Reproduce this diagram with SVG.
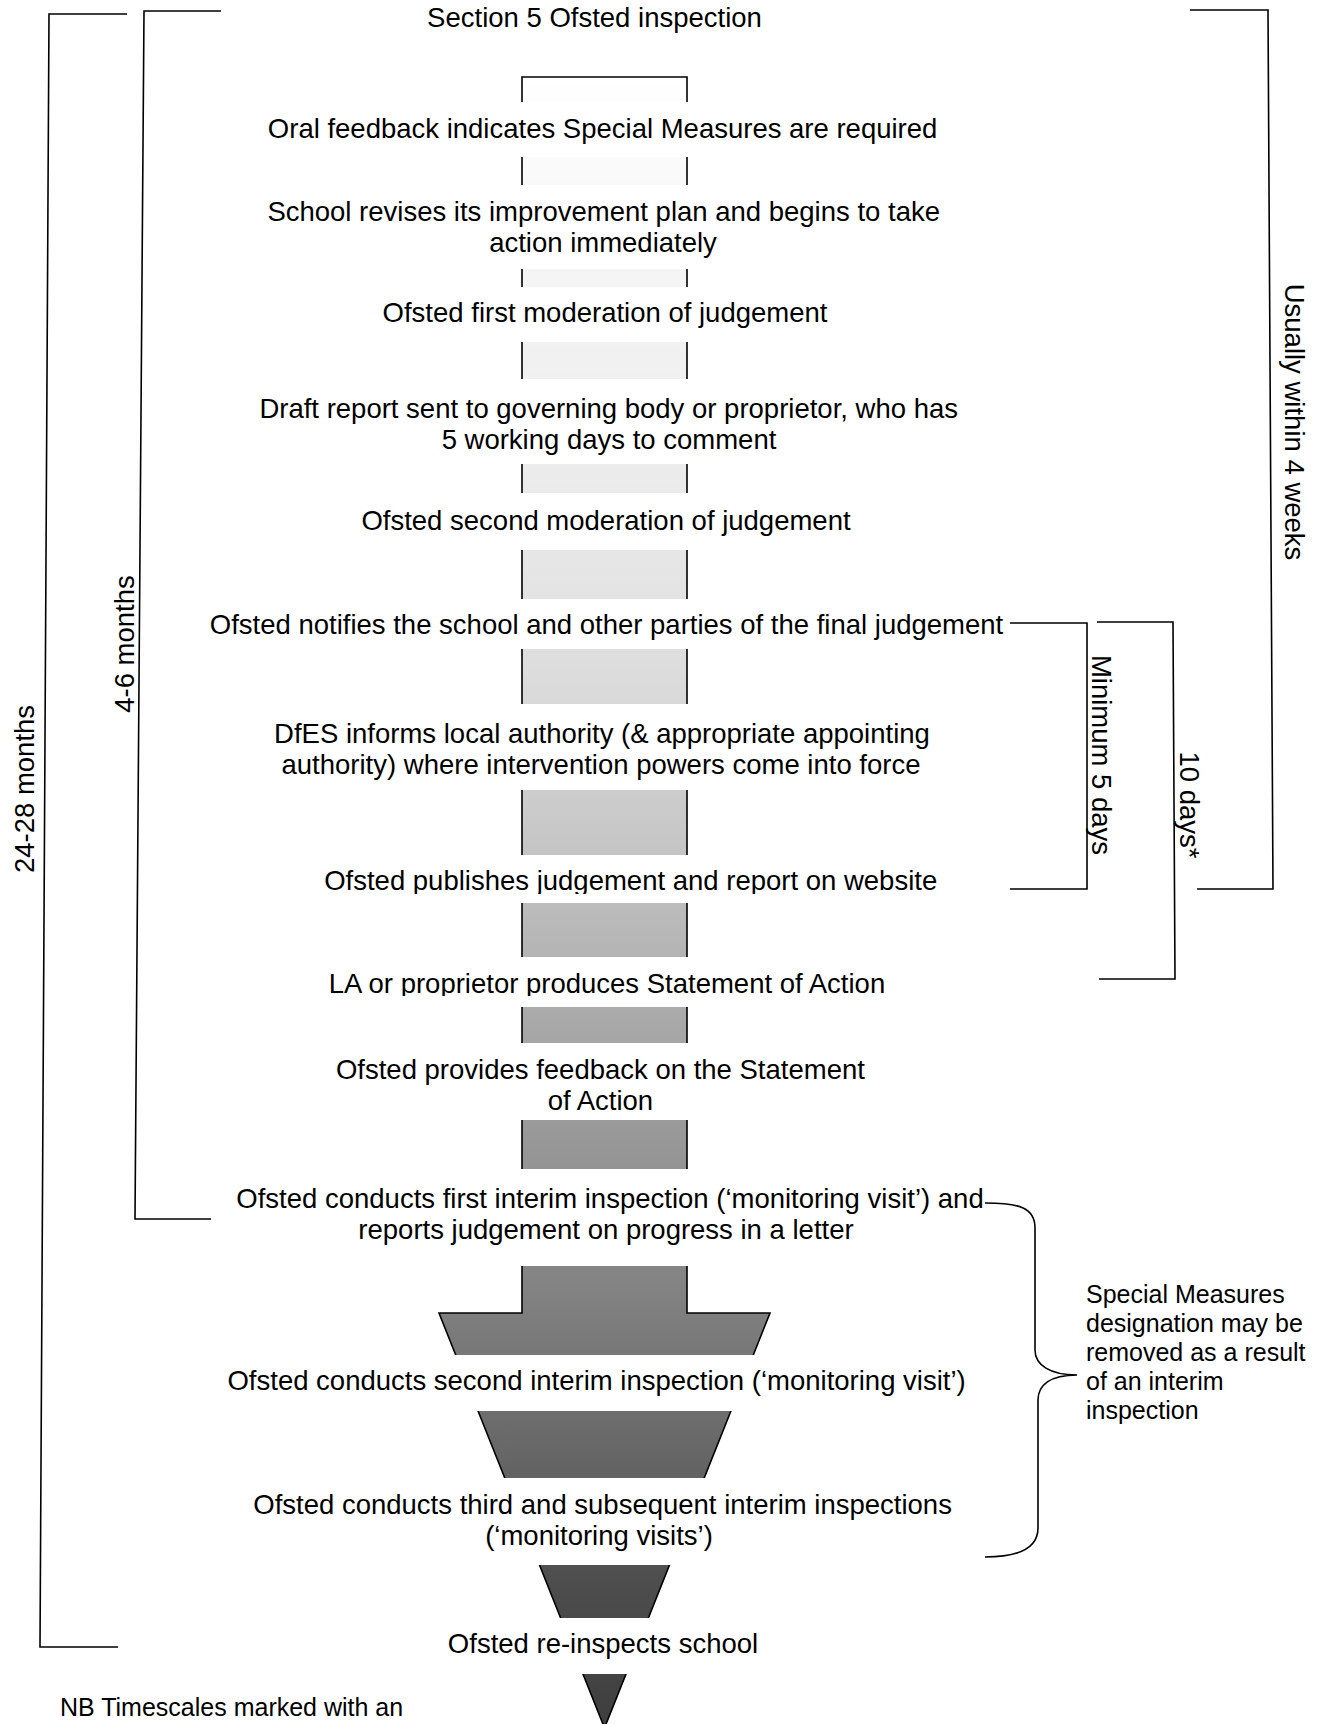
<svg xmlns="http://www.w3.org/2000/svg" width="1324" height="1724" viewBox="0 0 1324 1724">
<style>
text{font-family:"Liberation Sans",Arial,sans-serif;fill:#000}
.m{font-size:27.5px;text-anchor:middle}
.r{font-size:27.5px;text-anchor:middle}
.s{font-size:25px}
.ln{fill:none;stroke:#000;stroke-width:1.6}
</style>
<defs>
<linearGradient id="g" gradientUnits="userSpaceOnUse" x1="0" y1="77" x2="0" y2="1728">
<stop offset="0" stop-color="#ffffff"/>
<stop offset="0.056" stop-color="#fafafa"/>
<stop offset="0.122" stop-color="#f5f5f5"/>
<stop offset="0.171" stop-color="#f1f1f1"/>
<stop offset="0.243" stop-color="#ebebeb"/>
<stop offset="0.302" stop-color="#e5e5e5"/>
<stop offset="0.363" stop-color="#dcdcdc"/>
<stop offset="0.451" stop-color="#c9c9c9"/>
<stop offset="0.517" stop-color="#b8b8b8"/>
<stop offset="0.574" stop-color="#a8a8a8"/>
<stop offset="0.647" stop-color="#979797"/>
<stop offset="0.735" stop-color="#828282"/>
<stop offset="0.829" stop-color="#686868"/>
<stop offset="0.916" stop-color="#4c4c4c"/>
<stop offset="1" stop-color="#3e3e3e"/>
</linearGradient>
<clipPath id="bars">
<rect x="400" y="75" width="400" height="27"/>
<rect x="400" y="157" width="400" height="28"/>
<rect x="400" y="269" width="400" height="18"/>
<rect x="400" y="342" width="400" height="37"/>
<rect x="400" y="464" width="400" height="29"/>
<rect x="400" y="550" width="400" height="49"/>
<rect x="400" y="649" width="400" height="55"/>
<rect x="400" y="790" width="400" height="65"/>
<rect x="400" y="903" width="400" height="54"/>
<rect x="400" y="1007" width="400" height="36"/>
<rect x="400" y="1120" width="400" height="49"/>
<rect x="400" y="1266" width="400" height="89"/>
<rect x="400" y="1411" width="400" height="67"/>
<rect x="400" y="1565" width="400" height="53"/>
<rect x="400" y="1674" width="400" height="60"/>
</clipPath>
<clipPath id="c1"><rect x="0" y="850" width="1324" height="44"/></clipPath>
<clipPath id="c2"><rect x="0" y="960" width="1324" height="36"/></clipPath>
</defs>
<rect width="1324" height="1724" fill="#fff"/>

<g id="steps">
<g id="n0"><text class="m" x="594.5" y="27">Section 5 Ofsted inspection</text></g>
<g id="n1"><text class="m" x="602.6" y="138">Oral feedback indicates Special Measures are required</text></g>
<g id="n2"><text class="m" x="603.7" y="221">School revises its improvement plan and begins to take</text><text class="m" x="603" y="252">action immediately</text></g>
<g id="n3"><text class="m" x="605" y="322">Ofsted first moderation of judgement</text></g>
<g id="n4"><text class="m" x="608.7" y="418">Draft report sent to governing body or proprietor, who has</text><text class="m" x="609" y="449">5 working days to comment</text></g>
<g id="n5"><text class="m" x="606" y="530">Ofsted second moderation of judgement</text></g>
<g id="n6"><text class="m" x="606.5" y="634">Ofsted notifies the school and other parties of the final judgement</text></g>
<g id="n7"><text class="m" x="602" y="743">DfES informs local authority (&amp; appropriate appointing</text><text class="m" x="601" y="774">authority) where intervention powers come into force</text></g>
<g id="n8"><text class="m" x="630.7" y="890" clip-path="url(#c1)">Ofsted publishes judgement and report on website</text></g>
<g id="n9"><text class="m" x="607" y="993" clip-path="url(#c2)">LA or proprietor produces Statement of Action</text></g>
<g id="n10"><text class="m" x="600.4" y="1079">Ofsted provides feedback on the Statement</text><text class="m" x="600.4" y="1110">of Action</text></g>
<g id="n11"><text class="m" x="610" y="1208">Ofsted conducts first interim inspection (‘monitoring visit’) and</text><text class="m" x="606" y="1239">reports judgement on progress in a letter</text></g>
<g id="n12"><text class="m" x="596.6" y="1390">Ofsted conducts second interim inspection (‘monitoring visit’)</text></g>
<g id="n13"><text class="m" x="602.6" y="1514">Ofsted conducts third and subsequent interim inspections</text><text class="m" x="599" y="1545">(‘monitoring visits’)</text></g>
<g id="n14"><text class="m" x="603" y="1653">Ofsted re-inspects school</text></g>
</g>

<g id="flow-arrow" clip-path="url(#bars)">
<path d="M522,77 H687 V1313 H770 L604.5,1728 L439,1313 H522 Z" fill="url(#g)" stroke="#000" stroke-width="1.6"/>
</g>

<g id="connectors">
<path class="ln" d="M127,14 H49 L40,1647 H118"/>
<path class="ln" d="M221,11 H144 L135,1219 H211"/>
<path class="ln" d="M1190,10 H1268 L1273,889 H1197"/>
<path class="ln" d="M1010,623 H1087 V889 H1010"/>
<path class="ln" d="M1097,622 H1173 L1175,979 H1099"/>
<path class="ln" d="M985,1203 C1020,1203 1035,1208 1035,1228 V1350 C1035,1365 1050,1375 1077,1375 C1050,1375 1038,1385 1038,1400 V1528 C1038,1548 1020,1557 985,1557"/>
</g>

<g id="labels">
<text class="r" transform="translate(34,789) rotate(-90)">24-28 months</text>
<text class="r" transform="translate(134,644) rotate(-90)">4-6 months</text>
<text class="r" transform="translate(1285,422) rotate(90)">Usually within 4 weeks</text>
<text class="r" transform="translate(1092,755) rotate(90)">Minimum 5 days</text>
<text class="r" transform="translate(1180,805) rotate(90)">10 days*</text>
<g id="note-special">
<text class="s" x="1086" y="1303">Special Measures</text>
<text class="s" x="1086" y="1332">designation may be</text>
<text class="s" x="1086" y="1361">removed as a result</text>
<text class="s" x="1086" y="1390">of an interim</text>
<text class="s" x="1086" y="1419">inspection</text>
</g>
<text class="s" x="60" y="1716">NB Timescales marked with an</text>
</g>
</svg>
